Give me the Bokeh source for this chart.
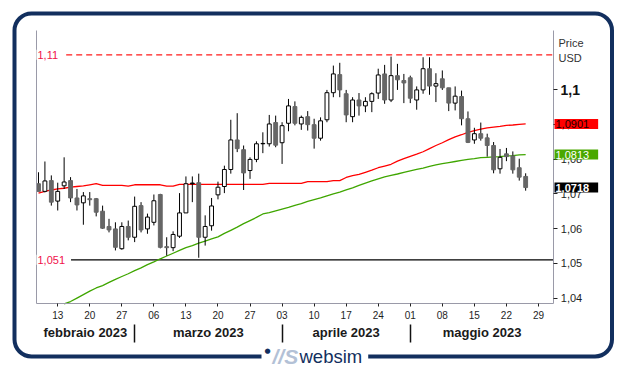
from bokeh.plotting import figure
from bokeh.models import Range1d, LinearAxis, FixedTicker, Label, ColumnDataSource
from bokeh.embed import file_html
from bokeh.resources import INLINE

# ---------------- data ----------------
opens = [1.0729, 1.0707, 1.0738, 1.0679, 1.0723, 1.0738, 1.0688, 1.0674, 1.0686, 1.0686,
         1.0650, 1.0606, 1.0599, 1.0542, 1.0606, 1.0575, 1.0666, 1.0599, 1.0618, 1.0698,
         1.0548, 1.0545, 1.0578, 1.0645, 1.0731, 1.0732, 1.0575, 1.0608, 1.0697, 1.0721,
         1.0770, 1.0855, 1.0827, 1.0767, 1.0799, 1.0845, 1.0844, 1.0905, 1.0847, 1.0903,
         1.0951, 1.0901, 1.0922, 1.0899, 1.0860, 1.0913, 1.0991, 1.1043, 1.0988, 1.0922,
         1.0970, 1.0953, 1.0966, 1.0990, 1.1045, 1.0970, 1.1040, 1.1026, 1.1034, 1.0970,
         1.0999, 1.1060, 1.1010, 1.1031, 1.1005, 1.0961, 1.0980, 1.0916, 1.0855, 1.0873,
         1.0861, 1.0839, 1.0772, 1.0815, 1.0809, 1.0775, 1.0750]
highs = [1.0762, 1.0793, 1.0753, 1.0732, 1.0805, 1.0748, 1.0714, 1.0705, 1.0705, 1.0688,
         1.0666, 1.0628, 1.0618, 1.0618, 1.0623, 1.0692, 1.0676, 1.0643, 1.0698, 1.0700,
         1.0575, 1.0592, 1.0702, 1.0750, 1.0750, 1.0758, 1.0638, 1.0688, 1.0735, 1.0781,
         1.0913, 1.0932, 1.0839, 1.0805, 1.0851, 1.0877, 1.0927, 1.0925, 1.0906, 1.0973,
         1.0966, 1.0925, 1.0938, 1.0916, 1.0920, 1.0999, 1.1069, 1.1077, 1.0999, 1.0978,
         1.0990, 1.0978, 1.0992, 1.1060, 1.1071, 1.1095, 1.1074, 1.1045, 1.1040, 1.1009,
         1.1093, 1.1093, 1.1047, 1.1055, 1.1005, 1.1009, 1.0997, 1.0937, 1.0890, 1.0905,
         1.0873, 1.0849, 1.0829, 1.0832, 1.0822, 1.0801, 1.0759]
lows = [1.0707, 1.0704, 1.0666, 1.0652, 1.0714, 1.0676, 1.0652, 1.0611, 1.0666, 1.0635,
        1.0599, 1.0589, 1.0537, 1.0539, 1.0566, 1.0561, 1.0589, 1.0585, 1.0609, 1.0543,
        1.0522, 1.0535, 1.0573, 1.0645, 1.0676, 1.0516, 1.0551, 1.0594, 1.0684, 1.0702,
        1.0758, 1.0820, 1.0711, 1.0743, 1.0791, 1.0817, 1.0836, 1.0834, 1.0786, 1.0880,
        1.0897, 1.0884, 1.0882, 1.0830, 1.0853, 1.0906, 1.0978, 1.0978, 1.0906, 1.0906,
        1.0925, 1.0935, 1.0935, 1.0973, 1.0959, 1.0964, 1.0999, 1.0961, 1.0961, 1.0942,
        1.0988, 1.0985, 1.0964, 1.0999, 1.0938, 1.0940, 1.0897, 1.0846, 1.0844, 1.0853,
        1.0807, 1.0759, 1.0758, 1.0794, 1.0758, 1.0738, 1.0709]
closes = [1.0707, 1.0737, 1.0676, 1.0707, 1.0734, 1.0688, 1.0668, 1.0694, 1.0683, 1.0647,
          1.0601, 1.0596, 1.0546, 1.0606, 1.0575, 1.0664, 1.0596, 1.0633, 1.0680, 1.0546,
          1.0545, 1.0583, 1.0645, 1.0729, 1.0729, 1.0575, 1.0606, 1.0665, 1.0719, 1.0770,
          1.0855, 1.0830, 1.0760, 1.0799, 1.0844, 1.0844, 1.0901, 1.0840, 1.0896, 1.0953,
          1.0903, 1.0920, 1.0899, 1.0860, 1.0910, 1.0991, 1.1045, 1.0999, 1.0927, 1.0970,
          1.0953, 1.0966, 1.0988, 1.1042, 1.0970, 1.1040, 1.1028, 1.1019, 1.0975, 1.0999,
          1.1060, 1.1010, 1.1017, 1.1005, 1.0961, 1.0981, 1.0916, 1.0848, 1.0873, 1.0860,
          1.0839, 1.0769, 1.0805, 1.0807, 1.0769, 1.0748, 1.0718]

ma_red = [1.0702, 1.0707, 1.0711, 1.0714, 1.0716, 1.0719, 1.0721, 1.0723, 1.0726, 1.0729,
          1.0724, 1.0724, 1.0724, 1.0724, 1.0722, 1.0726, 1.0726, 1.0726, 1.0726, 1.0726,
          1.0722, 1.0722, 1.0727, 1.0727, 1.0727, 1.0727, 1.0727, 1.0727, 1.0727, 1.0727,
          1.0727, 1.0727, 1.0727, 1.0727, 1.0727, 1.0727, 1.0730, 1.0730, 1.0730, 1.0730,
          1.0730, 1.0730, 1.0735, 1.0735, 1.0735, 1.0735, 1.0738, 1.0738, 1.0747, 1.0752,
          1.0756, 1.0762, 1.0768, 1.0775, 1.0780, 1.0785, 1.0794, 1.0801, 1.0808, 1.0814,
          1.0821, 1.0830, 1.0839, 1.0847, 1.0856, 1.0864, 1.0870, 1.0877, 1.0882, 1.0886,
          1.0890, 1.0892, 1.0894, 1.0897, 1.0898, 1.0900, 1.0901]
ma_green = [None, None, None, None,
            1.0383, 1.0390, 1.0400, 1.0410, 1.0420, 1.0429, 1.0436, 1.0445, 1.0454, 1.0462,
            1.0470, 1.0479, 1.0487, 1.0496, 1.0504, 1.0513, 1.0521, 1.0529, 1.0537, 1.0545,
            1.0551, 1.0558, 1.0564, 1.0570, 1.0576, 1.0586, 1.0595, 1.0604, 1.0614, 1.0623,
            1.0632, 1.0642, 1.0646, 1.0651, 1.0656, 1.0661, 1.0667, 1.0672, 1.0678, 1.0683,
            1.0688, 1.0694, 1.0700, 1.0705, 1.0711, 1.0717, 1.0724, 1.0731, 1.0737, 1.0743,
            1.0749, 1.0753, 1.0757, 1.0762, 1.0766, 1.0770, 1.0774, 1.0779, 1.0783, 1.0787,
            1.0790, 1.0793, 1.0796, 1.0799, 1.0801, 1.0804, 1.0805, 1.0806, 1.0807, 1.0809,
            1.0810, 1.0812, 1.0813]

level_hi = 1.11
level_lo = 1.051

day_ticks = [3, 8, 13, 18, 23, 28, 33, 38, 43, 48, 53, 58, 63, 68, 73, 78]
day_labels = ["13", "20", "27", "06", "13", "20", "27", "03", "10", "17", "24", "01", "08", "15", "22", "29"]
month_names = ["febbraio 2023", "marzo 2023", "aprile 2023", "maggio 2023"]
month_starts = [15, 38, 58]
price_ticks = [1.04, 1.05, 1.06, 1.07, 1.08, 1.09, 1.10]

# ---------------- layout constants ----------------
W, H = 627, 369
XL, XR = -0.36, 80.39          # plot-area edges (candle index units)
YB, YT = 1.0384, 1.1170        # plot-area edges (price)
x_range = Range1d(-5.928, 91.888)
y_range = Range1d(1.01944, 1.12563)

svg_bg = ("<svg xmlns='http://www.w3.org/2000/svg' width='627' height='369'>"
          "<rect x='14.5' y='13.5' width='597.5' height='343' rx='17' ry='17' fill='none' "
          "stroke='%23122f5e' stroke-width='4'/></svg>")

p = figure(width=W, height=H, output_backend="svg", toolbar_location=None,
           x_range=x_range, y_range=y_range, title_location=None,
           x_axis_location=None, y_axis_location=None, min_border=0)
p.styles = {"background-image": f'url("data:image/svg+xml;utf8,{svg_bg}")',
            "background-repeat": "no-repeat"}
p.border_fill_color = None
p.background_fill_color = None
p.outline_line_color = None
p.grid.grid_line_color = None

AX = "#9a9aa8"
FONT = "Liberation Sans"
TXT = "#1e1e1e"
NAVY = "#122f5e"

# left frame line
al = LinearAxis(ticker=FixedTicker(ticks=[]), fixed_location=XL, bounds=(YB, YT))
al.axis_line_color = AX
al.major_tick_line_color = None
al.minor_tick_line_color = None
al.major_label_text_font_size = "0px"
p.add_layout(al, "left")

# bottom axis: days
ax1 = LinearAxis(ticker=FixedTicker(ticks=day_ticks), fixed_location=YB, bounds=(XL, XR),
                 major_label_overrides={t: l for t, l in zip(day_ticks, day_labels)})
ax1.axis_line_color = AX
ax1.major_tick_in = 0
ax1.major_tick_out = 3
ax1.major_tick_line_color = "#222222"
ax1.minor_tick_line_color = None
ax1.major_label_text_font = FONT
ax1.major_label_text_font_size = "10px"
ax1.major_label_text_color = TXT
ax1.major_label_standoff = 4
p.add_layout(ax1, "below")

# month names
bounds = [XL] + month_starts + [XR]
month_centers = [round((bounds[i] + bounds[i + 1]) / 2, 3) for i in range(len(month_names))]
ax2 = LinearAxis(ticker=FixedTicker(ticks=month_centers), fixed_location=YB, bounds=(XL, XR),
                 major_label_overrides={t: l for t, l in zip(month_centers, month_names)})
ax2.axis_line_color = None
ax2.major_tick_line_color = None
ax2.minor_tick_line_color = None
ax2.major_tick_in = 0
ax2.major_tick_out = 0
ax2.major_label_text_font = FONT
ax2.major_label_text_font_size = "13px"
ax2.major_label_text_font_style = "bold"
ax2.major_label_text_color = "#1a1a1a"
ax2.major_label_standoff = 21
p.add_layout(ax2, "below")

# month separators
ax3 = LinearAxis(ticker=FixedTicker(ticks=month_starts), fixed_location=YB, bounds=(XL, XR),
                 major_label_overrides={t: "" for t in month_starts})
ax3.axis_line_color = None
ax3.minor_tick_line_color = None
ax3.major_tick_in = -21
ax3.major_tick_out = 39
ax3.major_tick_line_color = "#111111"
ax3.major_tick_line_width = 1.5
ax3.major_label_text_font_size = "0px"
p.add_layout(ax3, "below")

# right price axis
ay = LinearAxis(ticker=FixedTicker(ticks=price_ticks), fixed_location=XR, bounds=(YB, YT),
                major_label_overrides={t: ("" if abs(t - 1.10) < 1e-9 else f"{t:.2f}".replace(".", ","))
                                       for t in price_ticks})
ay.axis_line_color = AX
ay.major_tick_in = 0
ay.major_tick_out = 4
ay.major_tick_line_color = "#222222"
ay.minor_tick_line_color = None
ay.major_label_text_font = FONT
ay.major_label_text_font_size = "11px"
ay.major_label_text_color = TXT
ay.major_label_standoff = 3
p.add_layout(ay, "right")

# level lines (across the plot area)
p.segment(x0=[XL], y0=[level_hi], x1=[XR], y1=[level_hi], line_color="#ff1a1a",
          line_dash="6 4", line_width=1.3)
p.segment(x0=[XL], y0=[level_lo], x1=[XR], y1=[level_lo], line_color="#000000", line_width=1.2)

# moving averages
n = len(opens)
idx = list(range(n))
p.line(idx, ma_red, line_color="#ff0000", line_width=1.3)
gx = [i for i in idx if ma_green[i] is not None]
gy = [ma_green[i] for i in gx]
p.line(gx, gy, line_color="#3fa600", line_width=1.3)

# candles
fills, lines = [], []
for o, c in zip(opens, closes):
    if abs(c - o) <= 0.00025:
        fills.append("#000000"); lines.append("#000000")
    elif c > o:
        fills.append("#ffffff"); lines.append("#000000")
    else:
        fills.append("#666666"); lines.append("#666666")
src = ColumnDataSource(dict(x=idx, o=opens, h=highs, l=lows, c=closes,
                            top=[max(a, b) for a, b in zip(opens, closes)],
                            bot=[min(a, b) for a, b in zip(opens, closes)],
                            fill=fills, line=lines))
p.segment(x0="x", y0="l", x1="x", y1="h", source=src, line_color="#000000", line_width=1)
p.vbar(x="x", width=0.6, top="top", bottom="bot", source=src,
       fill_color="fill", line_color="line", line_width=1)

# level labels  (padding = left, right, top, bottom)
LVL = "#f0104a"
for lv in (level_hi, level_lo):
    txt = (f"{lv:.3f}".rstrip("0")).replace(".", ",")
    p.add_layout(Label(x=36, y=lv, x_units="screen", y_units="data", text=txt,
                       text_font=FONT, text_font_size="11px", text_color=LVL,
                       text_baseline="middle", text_align="left",
                       background_fill_color="white", padding=(1, 6, 1, 1)))

# right side value boxes
boxes = [(ma_red[-1], "#ff0000", "#1a0000", "normal"),
         (ma_green[-1], "#4aa800", "#ffffff", "normal"),
         (closes[-1], "#000000", "#ffffff", "bold")]
for v, bg, fg, st in boxes:
    p.add_layout(Label(x=554, y=v, x_units="screen", y_units="data",
                       text=f"{v:.4f}".replace(".", ","), text_font=FONT, text_font_size="11px",
                       text_font_style=st, text_color=fg, text_baseline="middle",
                       background_fill_color=bg, padding=(1, 9, 1, 1)))

p.add_layout(Label(x=560, y=1.10, x_units="screen", y_units="data", text="1,1",
                   text_font=FONT, text_font_size="14px", text_font_style="bold",
                   text_color="#111111", text_baseline="middle"))
p.add_layout(Label(x=558, y=H - 42, x_units="screen", y_units="screen", text="Price",
                   text_font=FONT, text_font_size="11px", text_color="#333333",
                   text_baseline="middle"))
p.add_layout(Label(x=558, y=H - 57, x_units="screen", y_units="screen", text="USD",
                   text_font=FONT, text_font_size="11px", text_color="#333333",
                   text_baseline="middle"))

# logo on the bottom border
p.add_layout(Label(x=261, y=H - 356, x_units="screen", y_units="screen", text="websim",
                   text_font=FONT, text_font_size="18.5px", text_color=NAVY,
                   text_baseline="middle", background_fill_color="white",
                   padding=(38, 6, 2, 2)))
p.add_layout(Label(x=272, y=H - 356, x_units="screen", y_units="screen", text="//S",
                   text_font=FONT, text_font_size="21px", text_font_style="bold italic",
                   text_color="#b3c1d6", text_baseline="middle"))
p.add_layout(Label(x=264, y=H - 350, x_units="screen", y_units="screen", text="\u25CF",
                   text_font="DejaVu Sans", text_font_size="7px", text_color=NAVY,
                   text_baseline="middle"))

open("out.html", "w").write(file_html(p, INLINE))
